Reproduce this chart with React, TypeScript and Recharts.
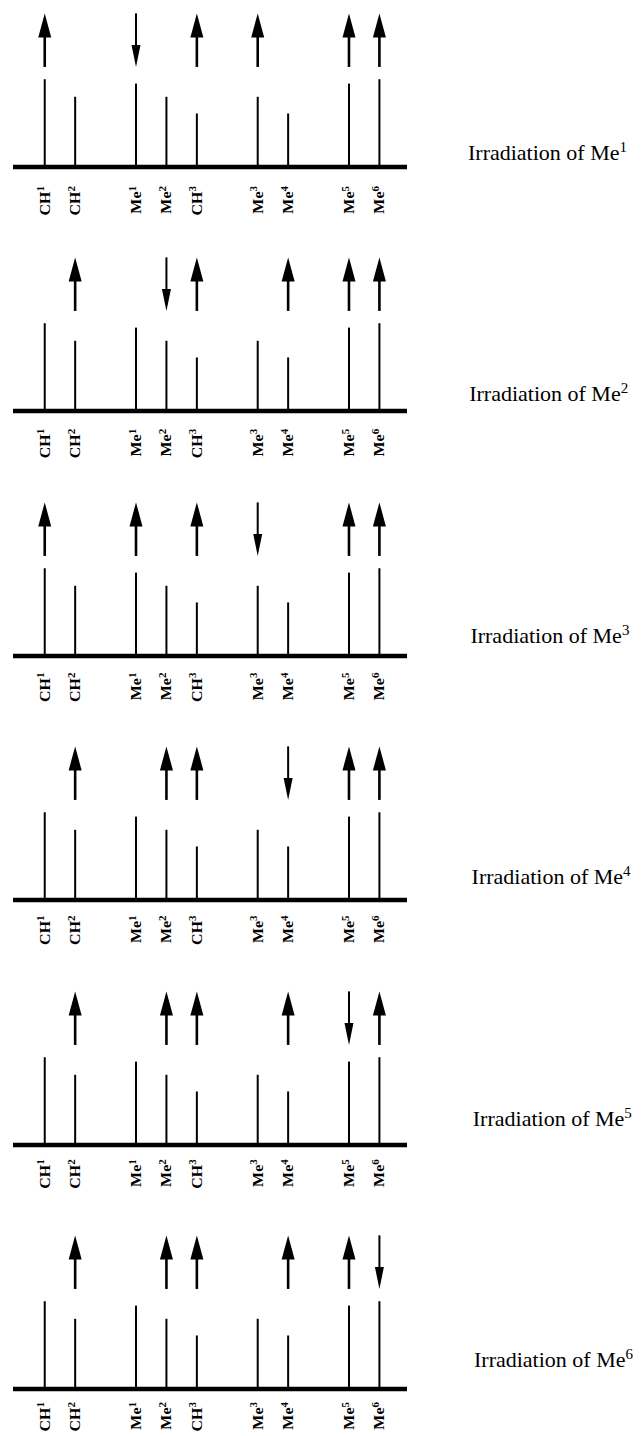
import React from 'react'
import { ComposedChart, Bar, XAxis, YAxis } from 'recharts'

// peaks of the 1H spectrum, left to right
const PEAK_NAMES = ['CH', 'CH', 'Me', 'Me', 'CH', 'Me', 'Me', 'Me', 'Me']
const PEAK_NUMBERS = ['1', '2', '1', '2', '3', '3', '4', '5', '6']
const SHIFTS = [0, 1, 3, 4, 5, 7, 8, 10, 11]
const INTENSITIES = [1.0, 0.8, 0.95, 0.8, 0.61, 0.8, 0.61, 0.95, 1.0]

// which methyl is irradiated in each trace
const IRRADIATED = ['1', '2', '3', '4', '5', '6']

// NOE response per peak: up = enhancement, down = irradiated signal
const NOE_ME1 = ['up', '', 'down', '', 'up', 'up', '', 'up', 'up']
const NOE_ME2 = ['', 'up', '', 'down', 'up', '', 'up', 'up', 'up']
const NOE_ME3 = ['up', '', 'up', '', 'up', 'down', '', 'up', 'up']
const NOE_ME4 = ['', 'up', '', 'up', 'up', '', 'down', 'up', 'up']
const NOE_ME5 = ['', 'up', '', 'up', 'up', '', 'up', 'down', 'up']
const NOE_ME6 = ['', 'up', '', 'up', 'up', '', 'up', 'up', 'down']
const NOE_TRACES = [NOE_ME1, NOE_ME2, NOE_ME3, NOE_ME4, NOE_ME5, NOE_ME6]

const ARROW_SPAN = [1.14, 1.75]
const X_DOMAIN: [number, number] = [-1.05, 11.9]

const SERIF = "'Liberation Serif', 'Times New Roman', serif"

function PeakTick(props: any) {
  const { x, y, payload } = props
  const i = SHIFTS.indexOf(payload.value)
  if (i < 0) return <g />
  // rotated, reading upwards, a bit narrow like the printed labels
  return (
    <text
      x={0}
      y={0}
      transform={`translate(${x} ${y}) rotate(-90) scale(1 0.88)`}
      textAnchor="end"
      dominantBaseline="central"
      fontFamily={SERIF}
      fontWeight="bold"
      fontSize={16}
      fill="#000"
    >
      {PEAK_NAMES[i]}
      <tspan fontSize={11} dy={-5}>{PEAK_NUMBERS[i]}</tspan>
    </text>
  )
}

function NoeArrow(props: any) {
  const { x, y, width, height, payload } = props
  if (!payload || !payload.dir) return <g />
  const cx = x + width / 2
  const top = Math.min(y, y + height)
  const bottom = Math.max(y, y + height)
  if (payload.dir === 'up') {
    const head = 24
    return (
      <g>
        <line x1={cx} x2={cx} y1={bottom} y2={top + head - 2} stroke="#000" strokeWidth={2.6} />
        <polygon points={`${cx},${top} ${cx - 6.5},${top + head} ${cx + 6.5},${top + head}`} fill="#000" />
      </g>
    )
  }
  const head = 22
  return (
    <g>
      <line x1={cx} x2={cx} y1={top} y2={bottom - head + 2} stroke="#000" strokeWidth={2} />
      <polygon points={`${cx},${bottom} ${cx - 4.5},${bottom - head} ${cx + 4.5},${bottom - head}`} fill="#000" />
    </g>
  )
}

function Trace({ dirs, irradiated, k }: { dirs: string[]; irradiated: string; k: number }) {
  const rows = SHIFTS.map((shift, i) => ({
    shift,
    intensity: INTENSITIES[i],
    dir: dirs[i],
    span: ARROW_SPAN,
  }))

  return (
    <div style={{ position: 'relative', width: 627, height: 244.4 }}>
      <ComposedChart width={420} height={244} data={rows} margin={{ top: 1, right: 21, bottom: 0, left: 5 }}>
        <XAxis
          xAxisId="peaks"
          dataKey="shift"
          type="number"
          domain={X_DOMAIN}
          allowDataOverflow
          ticks={SHIFTS}
          interval={0}
          tick={<PeakTick />}
          tickLine={false}
          tickSize={0}
          tickMargin={19 - k * 1.2}
          axisLine={{ stroke: '#000', strokeWidth: 4.5 }}
          height={85}
        />
        {/* separate axis so the arrows are not grouped beside the sticks */}
        <XAxis
          xAxisId="noe"
          orientation="top"
          dataKey="shift"
          type="number"
          domain={X_DOMAIN}
          allowDataOverflow
          height={0}
          hide
        />
        <YAxis domain={[0, 1.8]} allowDataOverflow hide />
        <Bar xAxisId="peaks" dataKey="intensity" barSize={2} fill="#000" isAnimationActive={false} />
        <Bar xAxisId="noe" dataKey="span" barSize={14} shape={<NoeArrow />} isAnimationActive={false} />
      </ComposedChart>
      <div
        style={{
          position: 'absolute',
          left: 460 + k * 1.2,
          top: 134 - k * 3,
          fontFamily: SERIF,
          fontSize: 22,
          lineHeight: '22px',
          whiteSpace: 'nowrap',
          color: '#000',
        }}
      >
        Irradiation of Me
        <span style={{ fontSize: 15, position: 'relative', top: -8 }}>{irradiated}</span>
      </div>
    </div>
  )
}

export default function App() {
  return (
    <div style={{ width: 627, background: '#fff' }}>
      {NOE_TRACES.map((dirs, k) => (
        <Trace key={k} k={k} dirs={dirs} irradiated={IRRADIATED[k]} />
      ))}
    </div>
  )
}
